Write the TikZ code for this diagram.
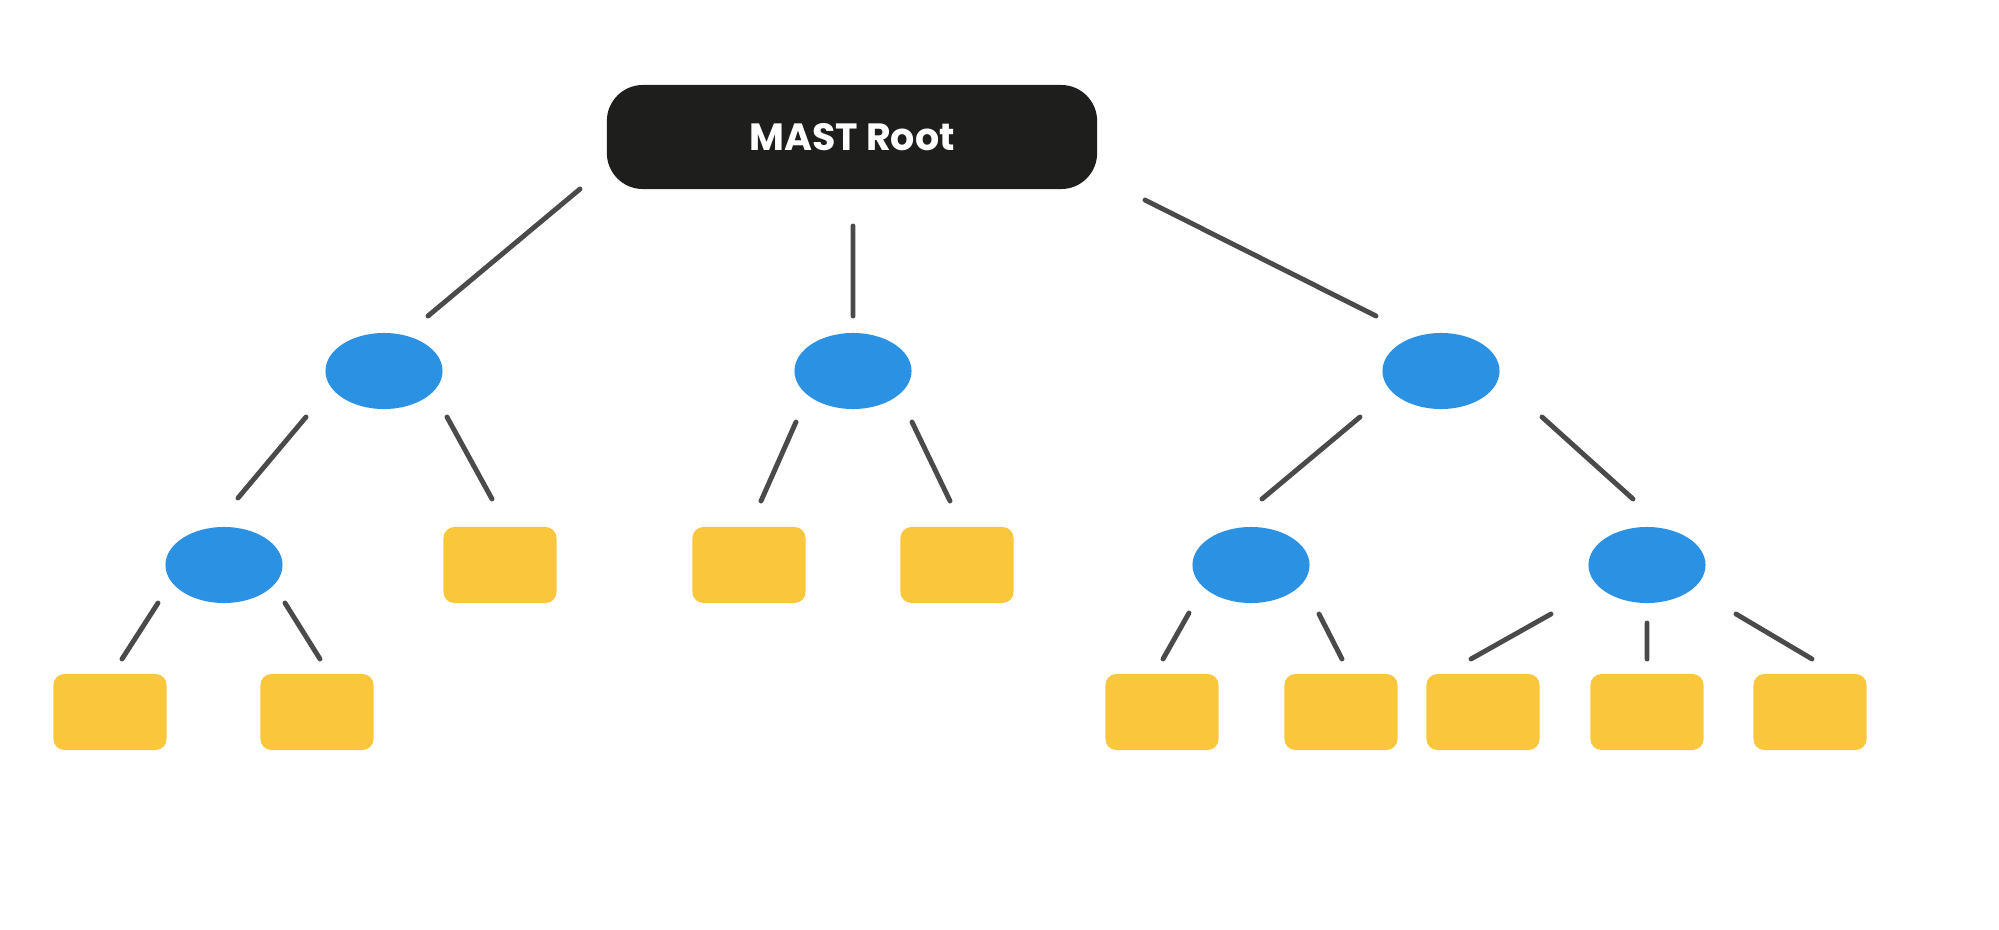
\documentclass[tikz,border=0pt]{standalone}
\usepackage{fontspec}
\newfontfamily\mastfont{Poppins}
\usetikzlibrary{shapes.geometric}
\definecolor{rootblack}{HTML}{1E1E1C}
\definecolor{hashblue}{HTML}{2B91E2}
\definecolor{leafyellow}{HTML}{FAC73C}
\definecolor{edgegray}{HTML}{4A4A4A}
\tikzset{
  rootbox/.style={rectangle, rounded corners=0.36cm, fill=rootblack, text=white,
    minimum width=4.9cm, minimum height=1.04cm, inner sep=0pt,
    font=\mastfont\bfseries\fontsize{10.8}{12}\selectfont},
  hash/.style={ellipse, fill=hashblue, minimum width=1.17cm, minimum height=0.76cm, inner sep=0pt},
  leaf/.style={rectangle, rounded corners=0.11cm, fill=leafyellow,
    minimum width=1.13cm, minimum height=0.76cm, inner sep=0pt},
  link/.style={draw=edgegray, line width=1.4pt, line cap=round}
}
\begin{document}
\begin{tikzpicture}[x=0.01cm, y=-0.01cm]
  \useasboundingbox (0,0) rectangle (1999,930);
  \node[rootbox] (R) at (852,137) {MAST Root};
  \node[hash] (A) at (384,371) {};
  \node[hash] (B) at (853,371) {};
  \node[hash] (C) at (1441,371) {};
  \node[hash] (D) at (224,565) {};
  \node[leaf] (L1) at (500,565) {};
  \node[leaf] (L2) at (749,565) {};
  \node[leaf] (L3) at (957,565) {};
  \node[hash] (E) at (1251,565) {};
  \node[hash] (F) at (1647,565) {};
  \node[leaf] (L4) at (110,712) {};
  \node[leaf] (L5) at (317,712) {};
  \node[leaf] (L6) at (1162,712) {};
  \node[leaf] (L7) at (1341,712) {};
  \node[leaf] (L8) at (1483,712) {};
  \node[leaf] (L9) at (1647,712) {};
  \node[leaf] (L10) at (1810,712) {};
  \draw[link]
  ([shift={(-272,52)}]R.center) -- ([shift={(44,-55)}]A.center)
  ([shift={(1,89)}]R.center) -- ([shift={(0,-55)}]B.center)
  ([shift={(293,63)}]R.center) -- ([shift={(-65,-55)}]C.center)
  ([shift={(-78,46)}]A.center) -- ([shift={(14,-67)}]D.center)
  ([shift={(63,46)}]A.center) -- ([shift={(-8,-66)}]L1.center)
  ([shift={(-57,51)}]B.center) -- ([shift={(12,-64)}]L2.center)
  ([shift={(59,51)}]B.center) -- ([shift={(-7,-64)}]L3.center)
  ([shift={(-81,46)}]C.center) -- ([shift={(11,-66)}]E.center)
  ([shift={(101,46)}]C.center) -- ([shift={(-14,-66)}]F.center)
  ([shift={(-66,38)}]D.center) -- ([shift={(12,-53)}]L4.center)
  ([shift={(61,38)}]D.center) -- ([shift={(3,-53)}]L5.center)
  ([shift={(-62,48)}]E.center) -- ([shift={(1,-53)}]L6.center)
  ([shift={(68,49)}]E.center) -- ([shift={(1,-53)}]L7.center)
  ([shift={(-96,49)}]F.center) -- ([shift={(-12,-53)}]L8.center)
  ([shift={(0,58)}]F.center) -- ([shift={(0,-53)}]L9.center)
  ([shift={(89,49)}]F.center) -- ([shift={(2,-53)}]L10.center);
\end{tikzpicture}
\end{document}
